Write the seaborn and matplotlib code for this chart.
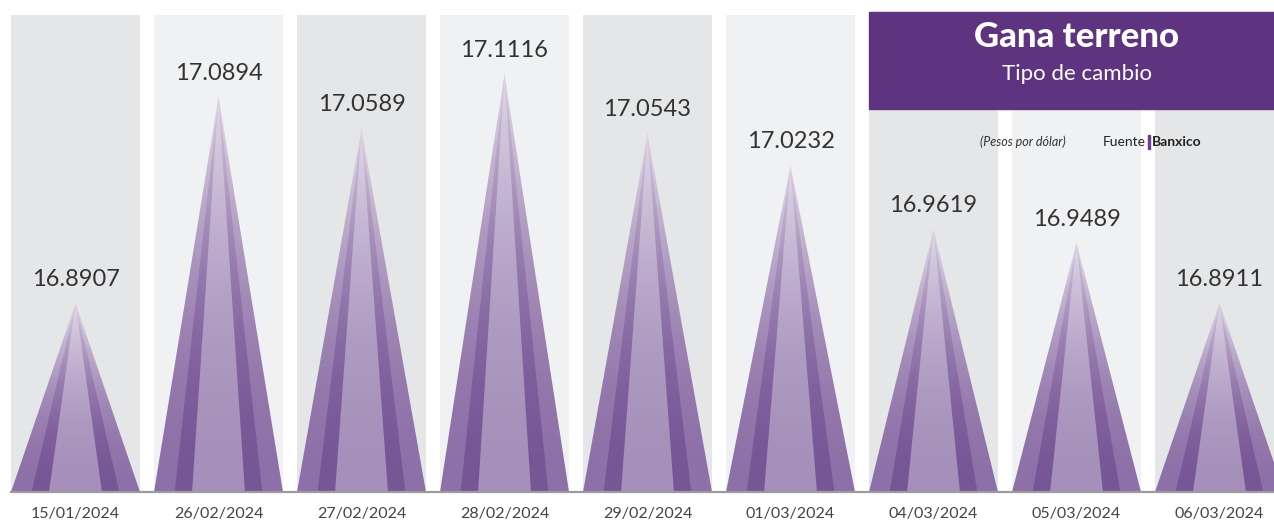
import numpy as np
import pandas as pd
import seaborn as sns
import matplotlib
matplotlib.use("Agg")
import matplotlib.pyplot as plt
from matplotlib.patches import Polygon, Rectangle
from matplotlib.colors import to_rgb

fechas = ["15/01/2024", "26/02/2024", "27/02/2024", "28/02/2024", "29/02/2024",
          "01/03/2024", "04/03/2024", "05/03/2024", "06/03/2024"]
valores = [16.8907, 17.0894, 17.0589, 17.1116, 17.0543, 17.0232, 16.9619, 16.9489, 16.8911]

df = pd.DataFrame({"fecha": fechas, "valor": valores})

sns.set_style("white")
plt.rcParams["font.family"] = ["Lato", "DejaVu Sans"]

W, H = 1274, 520
fig = plt.figure(figsize=(W / 100, H / 100), dpi=100)
ax = fig.add_axes([11 / W, (H - 492) / H, (W - 11) / W, (492 - 15) / H])

sns.barplot(data=df, x="fecha", y="valor", width=129 / 143, color="#8f72a9", ax=ax)

base = 16.709
ax.set_ylim(base, base + 477 / 1039)
ax.set_xlim(-64.5 / 143, (W - 75.5) / 143)

# capas del triangulo: (fraccion del ancho, color abajo, color arriba)
capas = [(1.0, "#8e70a8", "#e4dde9"),
         (0.68, "#775696", "#d8cde1"),
         (0.41, "#a690bb", "#e0d8e7")]

fondos = ["#e5e6e8", "#f0f1f3"]
t = np.linspace(0, 1, 256)
f = t ** 2.0

for i, p in enumerate(ax.patches):
    x0, w = p.get_x(), p.get_width()
    cx = x0 + w / 2
    top = p.get_y() + p.get_height()
    p.set_visible(False)
    ax.axvspan(x0, x0 + w, color=fondos[i % 2], zorder=0, lw=0)
    for frac, c0, c1 in capas:
        hw = w / 2 * frac
        poly = Polygon([(cx - hw, base), (cx + hw, base), (cx, top)], closed=True,
                       facecolor="none", edgecolor="none")
        ax.add_patch(poly)
        a, b = np.array(to_rgb(c0)), np.array(to_rgb(c1))
        grad = (a[None, :] * (1 - f[:, None]) + b[None, :] * f[:, None])[:, None, :]
        im = ax.imshow(grad, extent=[cx - hw, cx + hw, base, top], origin="lower",
                       aspect="auto", zorder=2, interpolation="bilinear")
        im.set_clip_path(poly)
    ax.annotate(f"{valores[i]:.4f}", (cx, top), xytext=(0, 17), textcoords="offset points",
                ha="center", va="center", fontsize=17, color="#333333")

ax.set_ylim(base, base + 477 / 1039)
ax.set_xlim(-64.5 / 143, (W - 75.5) / 143)

for s in ["top", "left", "right"]:
    ax.spines[s].set_visible(False)
ax.spines["bottom"].set_color("#9c9c9c")
ax.spines["bottom"].set_linewidth(1.6)
ax.spines["bottom"].set_zorder(5)
ax.set_yticks([])
ax.set_xlabel("")
ax.set_ylabel("")
ax.tick_params(axis="x", length=0, pad=11)
for lab in ax.get_xticklabels():
    lab.set_fontsize(11.5)
    lab.set_color("#444444")

# caja del titulo
fig.add_artist(Rectangle((869 / W, 1 - 109 / H), (W - 869) / W, 97 / H,
                         transform=fig.transFigure, color="#5e3480", zorder=10))
fig.text(1077 / W, 1 - 37 / H, "Gana terreno", ha="center", va="center",
         fontsize=25, fontweight="black", color="white", zorder=11)
fig.text(1077 / W, 1 - 74 / H, "Tipo de cambio", ha="center", va="center",
         fontsize=16, color="white", zorder=11)

fig.text(1023 / W, 1 - 142 / H, "(Pesos por dólar)", ha="center", va="center",
         fontsize=9, style="italic", color="#333333")
fig.text(1146 / W, 1 - 142 / H, "Fuente", ha="right", va="center",
         fontsize=10, color="#222222")
fig.add_artist(Rectangle((1147.5 / W, 1 - 149 / H), 2.5 / W, 14 / H,
                         transform=fig.transFigure, color="#6a3d8e"))
fig.text(1152 / W, 1 - 142 / H, "Banxico", ha="left", va="center",
         fontsize=10, fontweight="bold", color="#222222")

fig.savefig("out.png", dpi=100)
